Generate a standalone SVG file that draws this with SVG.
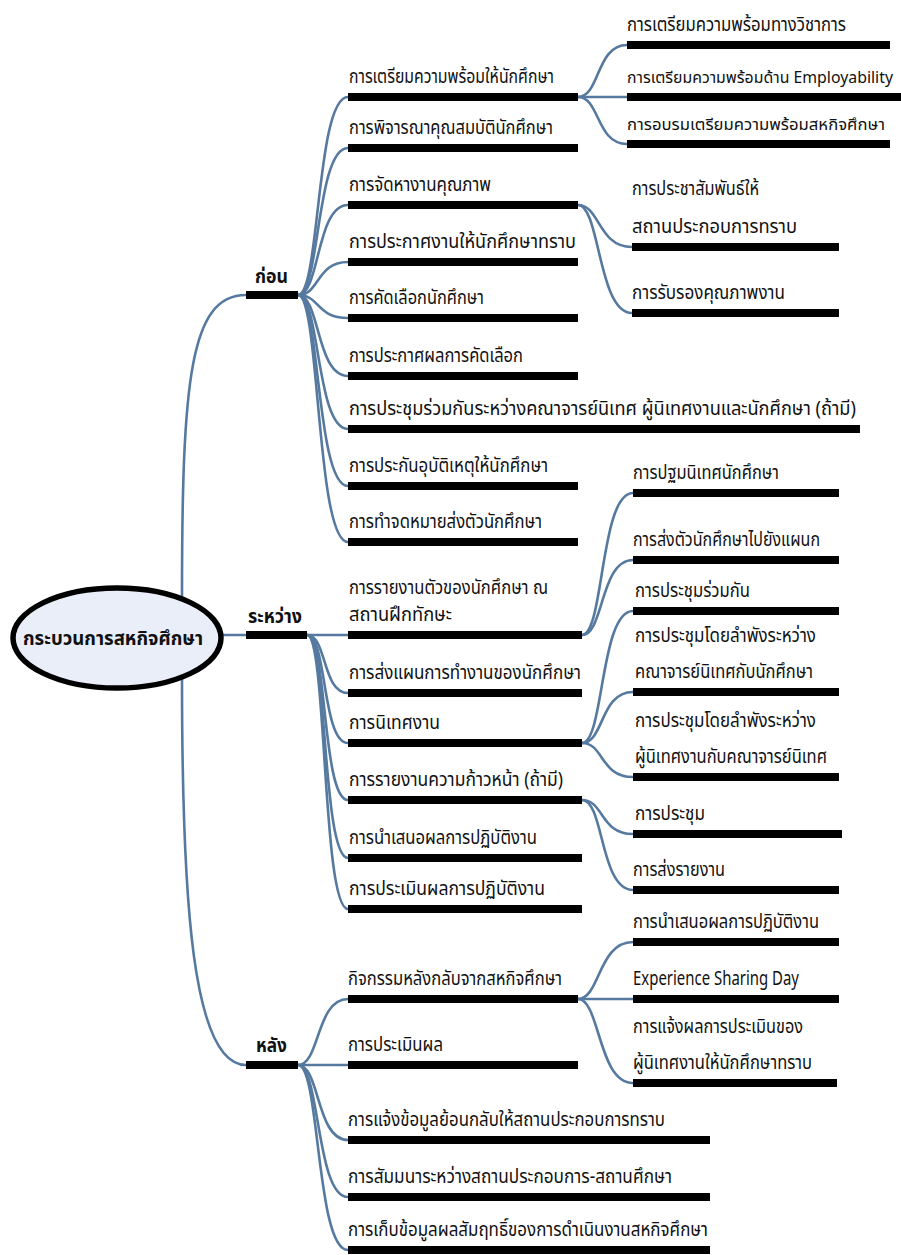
<svg xmlns="http://www.w3.org/2000/svg" width="901" height="1255" viewBox="0 0 901 1255">
  <style>
    .t { font-family: "Noto Sans Thai", "Noto Sans Thai UI", "Loma", "Garuda", "Tlwg Typo", "Noto Sans", "DejaVu Sans", sans-serif; font-size: 19.5px; fill: #111; }
    .h { font-weight: bold; font-size: 20px; }
    .s { font-size: 16.5px; }
    .xs { font-size: 15.5px; }
    .bar { fill: #000; }
    .c { fill: none; stroke: #56799f; stroke-width: 2.6; stroke-linecap: round; }
    .root { fill: #e9eef8; stroke: #000; stroke-width: 5.5; }
  </style>
  <rect width="901" height="1255" fill="#fff"/>

  <!-- connectors -->
  <g id="connectors">
    <!-- root to phases -->
    <path class="c" d="M222 635 L246 635"/>
    <path class="c" d="M182 597 C182 380 190 295 246 295"/>
    <path class="c" d="M182 679 C182 900 192 1065 246 1065"/>
    <!-- before -->
    <path class="c" d="M298 295 C320 295 316 97 348 97"/>
    <path class="c" d="M298 295 C320 295 316 148 348 148"/>
    <path class="c" d="M298 295 C320 295 316 205 348 205"/>
    <path class="c" d="M298 295 C320 295 316 262 348 262"/>
    <path class="c" d="M298 295 C320 295 316 318 348 318"/>
    <path class="c" d="M298 295 C320 295 316 376 348 376"/>
    <path class="c" d="M298 295 C320 295 316 429 348 429"/>
    <path class="c" d="M298 295 C320 295 316 486 348 486"/>
    <path class="c" d="M298 295 C320 295 316 542 348 542"/>
    <path class="c" d="M578 97 C600 97 596 45 627 45"/>
    <path class="c" d="M578 97 L627 97"/>
    <path class="c" d="M578 97 C600 97 596 144 627 144"/>
    <path class="c" d="M578 205 C600 205 598 247 632 247"/>
    <path class="c" d="M578 205 C600 205 598 313 632 313"/>
    <!-- during -->
    <path class="c" d="M307 635 L348 635"/>
    <path class="c" d="M307 635 C327 635 322 693 348 693"/>
    <path class="c" d="M307 635 C327 635 322 743 348 743"/>
    <path class="c" d="M307 635 C327 635 322 800 348 800"/>
    <path class="c" d="M307 635 C327 635 322 858 348 858"/>
    <path class="c" d="M307 635 C327 635 322 909 348 909"/>
    <path class="c" d="M582 635 C604 635 600 493 633 493"/>
    <path class="c" d="M582 635 C604 635 600 560 633 560"/>
    <path class="c" d="M582 743 C604 743 600 611 633 611"/>
    <path class="c" d="M582 743 C604 743 600 692 633 692"/>
    <path class="c" d="M582 743 C604 743 600 777 633 777"/>
    <path class="c" d="M582 800 C604 800 600 834 633 834"/>
    <path class="c" d="M582 800 C604 800 600 890 633 890"/>
    <!-- after -->
    <path class="c" d="M298 1065 C320 1065 316 999 348 999"/>
    <path class="c" d="M298 1065 L348 1065"/>
    <path class="c" d="M298 1065 C320 1065 316 1140 348 1140"/>
    <path class="c" d="M298 1065 C320 1065 316 1197 348 1197"/>
    <path class="c" d="M298 1065 C320 1065 316 1250 348 1250"/>
    <path class="c" d="M578 999 C600 999 598 942 633 942"/>
    <path class="c" d="M578 999 L633 999"/>
    <path class="c" d="M578 999 C600 999 598 1083 633 1083"/>
  </g>

  <!-- root -->
  <g id="root">
    <ellipse class="root" cx="117" cy="638" rx="104" ry="50"/>
    <text class="t h" x="23" y="645" textLength="180" lengthAdjust="spacingAndGlyphs">กระบวนการสหกิจศึกษา</text>
  </g>

  <!-- phase: before -->
  <g id="phase-before">
    <rect class="bar" x="246" y="291" width="52" height="8"/>
    <text class="t h" x="255" y="283" textLength="33" lengthAdjust="spacingAndGlyphs">ก่อน</text>
  </g>
  <g id="b1"><rect class="bar" x="348" y="93" width="230" height="8"/><text class="t" x="349" y="83" textLength="205" lengthAdjust="spacingAndGlyphs">การเตรียมความพร้อมให้นักศึกษา</text></g>
  <g id="b1a"><rect class="bar" x="627" y="41" width="263" height="8"/><text class="t" x="627" y="31" textLength="219" lengthAdjust="spacingAndGlyphs">การเตรียมความพร้อมทางวิชาการ</text></g>
  <g id="b1b"><rect class="bar" x="627" y="93" width="274" height="8"/><text class="t xs" x="627" y="83" textLength="266" lengthAdjust="spacingAndGlyphs">การเตรียมความพร้อมด้าน Employability</text></g>
  <g id="b1c"><rect class="bar" x="627" y="140" width="263" height="8"/><text class="t s" x="627" y="130" textLength="258" lengthAdjust="spacingAndGlyphs">การอบรมเตรียมความพร้อมสหกิจศึกษา</text></g>
  <g id="b2"><rect class="bar" x="348" y="144" width="230" height="8"/><text class="t" x="349" y="134" textLength="204" lengthAdjust="spacingAndGlyphs">การพิจารณาคุณสมบัตินักศึกษา</text></g>
  <g id="b3"><rect class="bar" x="348" y="201" width="230" height="8"/><text class="t" x="349" y="191" textLength="142" lengthAdjust="spacingAndGlyphs">การจัดหางานคุณภาพ</text></g>
  <g id="b3a"><rect class="bar" x="632" y="243" width="207" height="8"/><text class="t" x="632" y="195" textLength="127" lengthAdjust="spacingAndGlyphs">การประชาสัมพันธ์ให้</text><text class="t" x="632" y="233" textLength="165" lengthAdjust="spacingAndGlyphs">สถานประกอบการทราบ</text></g>
  <g id="b3b"><rect class="bar" x="632" y="309" width="207" height="8"/><text class="t" x="632" y="299" textLength="153" lengthAdjust="spacingAndGlyphs">การรับรองคุณภาพงาน</text></g>
  <g id="b4"><rect class="bar" x="348" y="258" width="230" height="8"/><text class="t" x="349" y="248" textLength="227" lengthAdjust="spacingAndGlyphs">การประกาศงานให้นักศึกษาทราบ</text></g>
  <g id="b5"><rect class="bar" x="348" y="314" width="230" height="8"/><text class="t" x="349" y="304" textLength="135" lengthAdjust="spacingAndGlyphs">การคัดเลือกนักศึกษา</text></g>
  <g id="b6"><rect class="bar" x="348" y="372" width="230" height="8"/><text class="t" x="349" y="362" textLength="174" lengthAdjust="spacingAndGlyphs">การประกาศผลการคัดเลือก</text></g>
  <g id="b7"><rect class="bar" x="348" y="425" width="512" height="8"/><text class="t" x="349" y="415" textLength="507" lengthAdjust="spacingAndGlyphs">การประชุมร่วมกันระหว่างคณาจารย์นิเทศ ผู้นิเทศงานและนักศึกษา (ถ้ามี)</text></g>
  <g id="b8"><rect class="bar" x="348" y="482" width="230" height="8"/><text class="t" x="349" y="472" textLength="199" lengthAdjust="spacingAndGlyphs">การประกันอุบัติเหตุให้นักศึกษา</text></g>
  <g id="b9"><rect class="bar" x="348" y="538" width="230" height="8"/><text class="t" x="349" y="528" textLength="193" lengthAdjust="spacingAndGlyphs">การทำจดหมายส่งตัวนักศึกษา</text></g>

  <!-- phase: during -->
  <g id="phase-during">
    <rect class="bar" x="246" y="631" width="61" height="8"/>
    <text class="t h" x="248" y="623" textLength="54" lengthAdjust="spacingAndGlyphs">ระหว่าง</text>
  </g>
  <g id="d1"><rect class="bar" x="348" y="631" width="234" height="8"/><text class="t" x="349" y="594" textLength="199" lengthAdjust="spacingAndGlyphs">การรายงานตัวของนักศึกษา ณ</text><text class="t" x="349" y="621" textLength="103" lengthAdjust="spacingAndGlyphs">สถานฝึกทักษะ</text></g>
  <g id="d1a"><rect class="bar" x="633" y="489" width="206" height="8"/><text class="t" x="633" y="479" textLength="146" lengthAdjust="spacingAndGlyphs">การปฐมนิเทศนักศึกษา</text></g>
  <g id="d1b"><rect class="bar" x="633" y="556" width="206" height="8"/><text class="t" x="633" y="546" textLength="187" lengthAdjust="spacingAndGlyphs">การส่งตัวนักศึกษาไปยังแผนก</text></g>
  <g id="d2"><rect class="bar" x="348" y="689" width="234" height="8"/><text class="t" x="349" y="679" textLength="232" lengthAdjust="spacingAndGlyphs">การส่งแผนการทำงานของนักศึกษา</text></g>
  <g id="d3"><rect class="bar" x="348" y="739" width="234" height="8"/><text class="t" x="349" y="729" textLength="91" lengthAdjust="spacingAndGlyphs">การนิเทศงาน</text></g>
  <g id="d3a"><rect class="bar" x="633" y="607" width="206" height="8"/><text class="t" x="635" y="597" textLength="115" lengthAdjust="spacingAndGlyphs">การประชุมร่วมกัน</text></g>
  <g id="d3b"><rect class="bar" x="633" y="688" width="206" height="8"/><text class="t" x="635" y="642" textLength="181" lengthAdjust="spacingAndGlyphs">การประชุมโดยลำพังระหว่าง</text><text class="t" x="635" y="678" textLength="178" lengthAdjust="spacingAndGlyphs">คณาจารย์นิเทศกับนักศึกษา</text></g>
  <g id="d3c"><rect class="bar" x="633" y="773" width="206" height="8"/><text class="t" x="635" y="727" textLength="181" lengthAdjust="spacingAndGlyphs">การประชุมโดยลำพังระหว่าง</text><text class="t" x="635" y="763" textLength="192" lengthAdjust="spacingAndGlyphs">ผู้นิเทศงานกับคณาจารย์นิเทศ</text></g>
  <g id="d4"><rect class="bar" x="348" y="796" width="234" height="8"/><text class="t" x="349" y="786" textLength="214" lengthAdjust="spacingAndGlyphs">การรายงานความก้าวหน้า (ถ้ามี)</text></g>
  <g id="d4a"><rect class="bar" x="633" y="830" width="209" height="8"/><text class="t" x="635" y="820" textLength="70" lengthAdjust="spacingAndGlyphs">การประชุม</text></g>
  <g id="d4b"><rect class="bar" x="633" y="886" width="206" height="8"/><text class="t" x="633" y="876" textLength="92" lengthAdjust="spacingAndGlyphs">การส่งรายงาน</text></g>
  <g id="d5"><rect class="bar" x="348" y="854" width="234" height="8"/><text class="t" x="349" y="844" textLength="188" lengthAdjust="spacingAndGlyphs">การนำเสนอผลการปฏิบัติงาน</text></g>
  <g id="d6"><rect class="bar" x="348" y="905" width="234" height="8"/><text class="t" x="349" y="895" textLength="196" lengthAdjust="spacingAndGlyphs">การประเมินผลการปฏิบัติงาน</text></g>

  <!-- phase: after -->
  <g id="phase-after">
    <rect class="bar" x="246" y="1061" width="52" height="8"/>
    <text class="t h" x="256" y="1052" textLength="31" lengthAdjust="spacingAndGlyphs">หลัง</text>
  </g>
  <g id="a1"><rect class="bar" x="348" y="995" width="230" height="8"/><text class="t" x="348" y="985" textLength="214" lengthAdjust="spacingAndGlyphs">กิจกรรมหลังกลับจากสหกิจศึกษา</text></g>
  <g id="a1a"><rect class="bar" x="633" y="938" width="206" height="8"/><text class="t" x="633" y="928" textLength="186" lengthAdjust="spacingAndGlyphs">การนำเสนอผลการปฏิบัติงาน</text></g>
  <g id="a1b"><rect class="bar" x="633" y="995" width="206" height="8"/><text class="t" x="633" y="985" textLength="166" lengthAdjust="spacingAndGlyphs">Experience Sharing Day</text></g>
  <g id="a1c"><rect class="bar" x="633" y="1079" width="204" height="8"/><text class="t" x="633" y="1033" textLength="170" lengthAdjust="spacingAndGlyphs">การแจ้งผลการประเมินของ</text><text class="t" x="633" y="1069" textLength="179" lengthAdjust="spacingAndGlyphs">ผู้นิเทศงานให้นักศึกษาทราบ</text></g>
  <g id="a2"><rect class="bar" x="348" y="1061" width="230" height="8"/><text class="t" x="348" y="1051" textLength="95" lengthAdjust="spacingAndGlyphs">การประเมินผล</text></g>
  <g id="a3"><rect class="bar" x="348" y="1136" width="362" height="8"/><text class="t" x="348" y="1126" textLength="317" lengthAdjust="spacingAndGlyphs">การแจ้งข้อมูลย้อนกลับให้สถานประกอบการทราบ</text></g>
  <g id="a4"><rect class="bar" x="348" y="1193" width="362" height="8"/><text class="t" x="348" y="1183" textLength="324" lengthAdjust="spacingAndGlyphs">การสัมมนาระหว่างสถานประกอบการ-สถานศึกษา</text></g>
  <g id="a5"><rect class="bar" x="348" y="1246" width="362" height="8"/><text class="t" x="348" y="1236" textLength="360" lengthAdjust="spacingAndGlyphs">การเก็บข้อมูลผลสัมฤทธิ์ของการดำเนินงานสหกิจศึกษา</text></g>
</svg>
